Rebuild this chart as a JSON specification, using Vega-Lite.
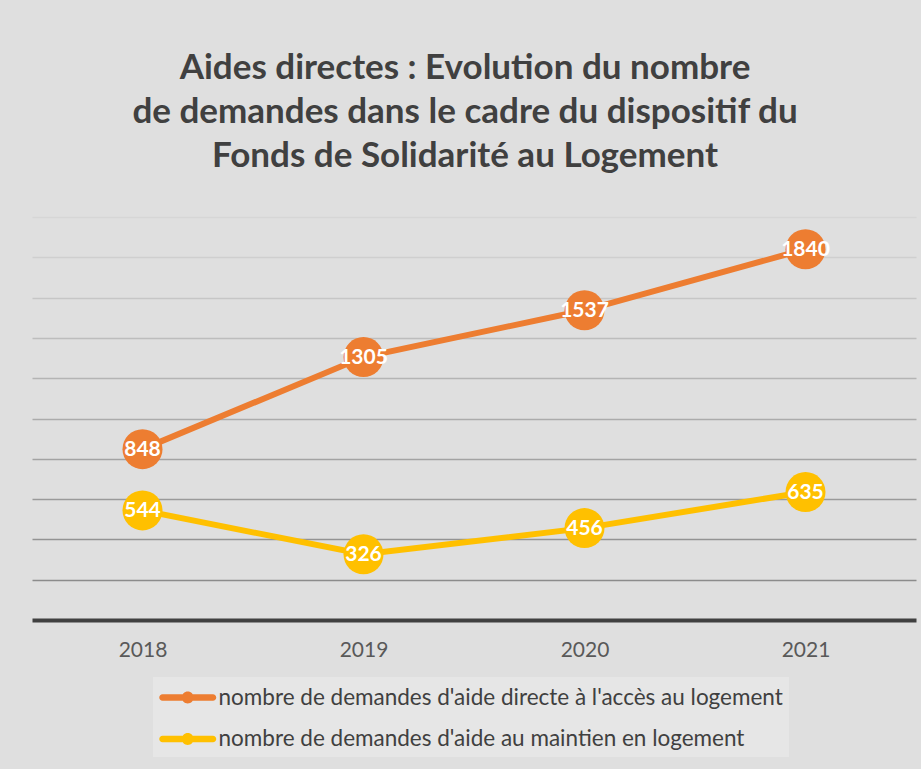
{
  "$schema": "https://vega.github.io/schema/vega-lite/v6.json",
  "width": 884,
  "height": 403,
  "autosize": {"type": "none"},
  "padding": {"left": 32, "top": 217, "right": 5, "bottom": 149},
  "background": "#dfdfdf",
  "title": {
    "text": ["Aides directes : Evolution du nombre", "de demandes dans le cadre du dispositif du", "Fonds de Solidarité au Logement"],
    "font": "Lato",
    "fontSize": 35,
    "fontWeight": "bold",
    "color": "#404040",
    "lineHeight": 44,
    "anchor": "middle",
    "frame": "group",
    "offset": 43,
    "dx": -9
  },
  "config": {"view": {"stroke": null}},
  "data": {
    "values": [
      {"year": "2018", "serie": "nombre de demandes d'aide directe à l'accès au logement", "value": 848},
      {"year": "2019", "serie": "nombre de demandes d'aide directe à l'accès au logement", "value": 1305},
      {"year": "2020", "serie": "nombre de demandes d'aide directe à l'accès au logement", "value": 1537},
      {"year": "2021", "serie": "nombre de demandes d'aide directe à l'accès au logement", "value": 1840},
      {"year": "2018", "serie": "nombre de demandes d'aide au maintien en logement", "value": 544},
      {"year": "2019", "serie": "nombre de demandes d'aide au maintien en logement", "value": 326},
      {"year": "2020", "serie": "nombre de demandes d'aide au maintien en logement", "value": 456},
      {"year": "2021", "serie": "nombre de demandes d'aide au maintien en logement", "value": 635}
    ]
  },
  "encoding": {
    "x": {
      "field": "year",
      "type": "ordinal",
      "title": null,
      "axis": {
        "labelAngle": 0,
        "labelFont": "Lato",
        "labelFontSize": 21,
        "labelColor": "#595959",
        "labelPadding": 19,
        "ticks": false,
        "domainColor": "#404040",
        "domainWidth": 4,
        "grid": false
      }
    },
    "y": {
      "field": "value",
      "type": "quantitative",
      "scale": {"domain": [0, 2000], "nice": false},
      "axis": {
        "title": null,
        "labels": false,
        "ticks": false,
        "domain": false,
        "grid": true,
        "values": [200, 400, 600, 800, 1000, 1200, 1400, 1600, 1800, 2000],
        "gridWidth": 1.5,
        "gridOpacity": 1,
        "gridColor": {
          "condition": [
            {"test": "datum.value <= 200", "value": "#8c8c8c"},
            {"test": "datum.value <= 400", "value": "#939393"},
            {"test": "datum.value <= 600", "value": "#9a9a9a"},
            {"test": "datum.value <= 800", "value": "#a3a3a3"},
            {"test": "datum.value <= 1000", "value": "#ababab"},
            {"test": "datum.value <= 1200", "value": "#b4b4b4"},
            {"test": "datum.value <= 1400", "value": "#bdbdbd"},
            {"test": "datum.value <= 1600", "value": "#c6c6c6"},
            {"test": "datum.value <= 1800", "value": "#cfcfcf"}
          ],
          "value": "#d6d6d6"
        }
      }
    },
    "color": {
      "field": "serie",
      "type": "nominal",
      "sort": ["nombre de demandes d'aide directe à l'accès au logement", "nombre de demandes d'aide au maintien en logement"],
      "scale": {
        "domain": ["nombre de demandes d'aide directe à l'accès au logement", "nombre de demandes d'aide au maintien en logement"],
        "range": ["#ED7D31", "#FFC000"]
      },
      "legend": {
        "title": null,
        "orient": "none",
        "legendX": 121,
        "legendY": 460,
        "direction": "vertical",
        "fillColor": "#e6e6e6",
        "padding": 6,
        "symbolType": "M -0.77 -0.23 L 2.77 -0.23 A 0.23 0.23 0 0 1 2.77 0.23 L -0.77 0.23 A 0.23 0.23 0 0 1 -0.77 -0.23 Z M 1.42 0 A 0.42 0.42 0 1 1 0.58 0 A 0.42 0.42 0 1 1 1.42 0 Z",
        "symbolSize": 812,
        "symbolStrokeWidth": 0,
        "labelOffset": 30.5,
        "rowPadding": 15.5,
        "labelFont": "Lato",
        "labelFontSize": 22.5,
        "labelColor": "#404040",
        "labelLimit": 900,
        "encode": {
          "symbols": {
            "update": {
              "fill": {"scale": "color", "field": "value"},
              "stroke": {"value": "transparent"},
              "opacity": {"value": 1}
            }
          }
        }
      }
    }
  },
  "layer": [
    {"mark": {"type": "line", "strokeWidth": 6}},
    {"mark": {"type": "point", "filled": true, "size": 1600, "opacity": 1, "strokeWidth": 0}},
    {
      "mark": {"type": "text", "color": "white", "font": "Lato", "fontSize": 21, "fontWeight": "bold", "align": "center", "baseline": "middle", "dy": 1},
      "encoding": {"text": {"field": "value", "type": "quantitative"}, "color": {"value": "white"}}
    }
  ]
}
